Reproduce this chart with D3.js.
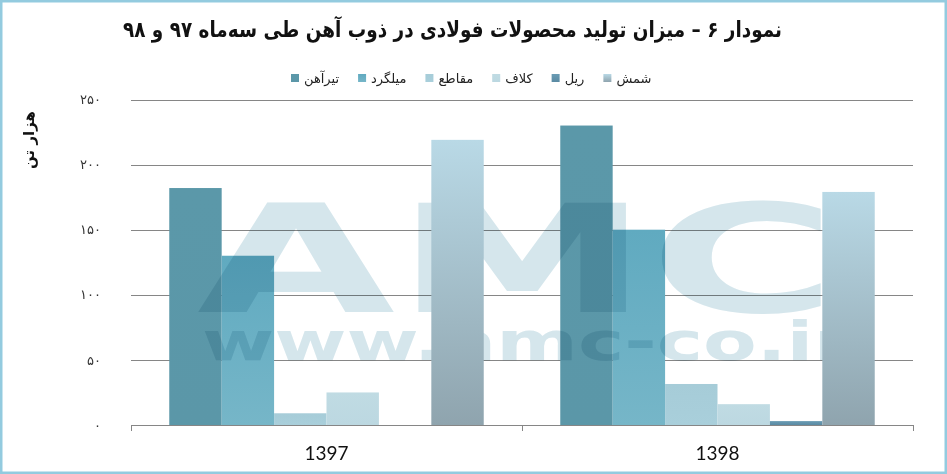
<!DOCTYPE html>
<html>
<head>
<meta charset="utf-8">
<script src="https://cdn.jsdelivr.net/npm/d3@7"></script>
<style>
body { margin: 0; background: #fff; }
svg { display: block; }
</style>
</head>
<body>
<svg id="chart" width="947" height="474"></svg>
<script>
// data (thousand tonnes)
var years = ["1397", "1398"];
var products = ["تیرآهن", "میلگرد", "مقاطع", "کلاف", "ریل", "شمش"];
var values1397 = [182, 130, 9, 25, 0, 219];
var values1398 = [230, 150, 31.5, 16, 3, 179];
var yTicks = [0, 50, 100, 150, 200, 250];
var titleText = "نمودار ۶ – میزان تولید محصولات  فولادی در ذوب آهن طی سه‌ماه ۹۷ و ۹۸";
var yTitle = "هزار تن";

// gradient stops per series: [top, bottom]
var colors = [["#5b98a9", "#5b97a8"], ["#60aac0", "#76b6c8"], ["#a6ccd8", "#a9cfdb"],
              ["#c0dbe3", "#bcd8e1"], ["#6a9cb4", "#5a8aa3"], ["#b9d9e6", "#8fa4ae"]];
// series that sit above the watermark
var overWatermark = ["شمش"];

var rows = [values1397, values1398];
var table = [];
years.forEach(function (yr, i) {
    products.forEach(function (p, j) {
        table.push({year: yr, product: p, idx: j, value: rows[i][j]});
    });
});

function toFa(n) {
    return String(n).replace(/\d/g, function (d) { return "۰۱۲۳۴۵۶۷۸۹"[d]; });
}

var svg = d3.select("#chart");
var plotL = 131, plotR = 913, plotT = 99.5, plotB = 425;

var x0 = d3.scaleBand().domain(years).range([plotL, plotR]);
var x1 = d3.scaleBand().domain(products).range([0, x0.bandwidth()]).paddingOuter(0.73);
var y = d3.scaleLinear().domain([0, 250]).range([plotB, plotT]);

var defs = svg.append("defs");
colors.forEach(function (c, j) {
    var g = defs.append("linearGradient").attr("id", "g" + j)
        .attr("x1", 0).attr("y1", 0).attr("x2", 0).attr("y2", 1);
    g.append("stop").attr("offset", "0%").attr("stop-color", c[0]);
    g.append("stop").attr("offset", "100%").attr("stop-color", c[1]);
});

// frame
svg.append("rect").attr("x", 1.25).attr("y", 1.25).attr("width", 944.5).attr("height", 471.5)
    .attr("fill", "#fff").attr("stroke", "#93cbdf").attr("stroke-width", 2.5);

// title
svg.append("text").text(titleText)
    .attr("x", 123).attr("y", 37)
    .attr("textLength", 659).attr("lengthAdjust", "spacingAndGlyphs")
    .style("font-family", "DejaVu Sans").style("font-weight", "bold").style("font-size", "22px")
    .attr("fill", "#111");

// gridlines
svg.append("g").selectAll("line").data(yTicks.filter(function (d) { return d > 0; }))
    .enter().append("line")
    .attr("x1", plotL).attr("x2", plotR)
    .attr("y1", function (d) { return Math.round(y(d)) + 0.5; })
    .attr("y2", function (d) { return Math.round(y(d)) + 0.5; })
    .attr("stroke", "#868686").attr("stroke-width", 1);

// y axis labels
var yAxis = svg.append("g")
    .attr("transform", "translate(" + plotL + ",0)")
    .call(d3.axisLeft(y).tickValues(yTicks).tickSize(0).tickPadding(30).tickFormat(toFa));
yAxis.select(".domain").remove();
yAxis.selectAll("text").style("font-family", "DejaVu Sans").style("font-size", "13px").attr("fill", "#333");

// y title
svg.append("text").text(yTitle)
    .attr("transform", "translate(34,140) rotate(-90)")
    .attr("text-anchor", "middle")
    .style("font-family", "DejaVu Sans").style("font-weight", "bold").style("font-size", "15px")
    .attr("fill", "#111");

function drawBars(g, data) {
    g.selectAll("rect").data(data).enter().append("rect")
        .attr("x", function (d) { return x0(d.year) + x1(d.product); })
        .attr("y", function (d) { return y(d.value); })
        .attr("width", x1.bandwidth())
        .attr("height", function (d) { return plotB - y(d.value); })
        .attr("fill", function (d) { return "url(#g" + d.idx + ")"; });
}

drawBars(svg.append("g"), table.filter(function (d) { return overWatermark.indexOf(d.product) < 0; }));

// watermark
var wm = svg.append("g").style("mix-blend-mode", "multiply").attr("fill", "#d5e6ec")
    .style("font-family", "DejaVu Sans").style("font-weight", "bold");
wm.append("text").text("AMC").attr("x", 197).attr("y", 312)
    .attr("textLength", 640).attr("lengthAdjust", "spacingAndGlyphs")
    .style("font-size", "150px");
wm.append("text").text("www.amc-co.ir").attr("x", 202).attr("y", 360)
    .attr("textLength", 650).attr("lengthAdjust", "spacingAndGlyphs")
    .style("font-size", "54px");

drawBars(svg.append("g"), table.filter(function (d) { return overWatermark.indexOf(d.product) >= 0; }));

// x axis
var xg = svg.append("g");
xg.append("line").attr("x1", plotL).attr("x2", plotR).attr("y1", plotB + 0.5).attr("y2", plotB + 0.5)
    .attr("stroke", "#868686");
xg.selectAll(".tk").data(years.map(function (d) { return x0(d); }).concat([plotR]))
    .enter().append("line").attr("class", "tk")
    .attr("x1", function (d) { return d + 0.5; }).attr("x2", function (d) { return d + 0.5; })
    .attr("y1", plotB).attr("y2", plotB + 6).attr("stroke", "#868686");
var xAxis = svg.append("g").attr("transform", "translate(0," + plotB + ")")
    .call(d3.axisBottom(x0).tickSize(0).tickPadding(22));
xAxis.select(".domain").remove();
xAxis.selectAll("text").style("font-family", "Lato").style("font-size", "19px").attr("fill", "#111");

// legend
var legend = svg.append("g").attr("transform", "translate(291,78)");
var cx = 0;
products.forEach(function (p, j) {
    var item = legend.append("g").attr("transform", "translate(" + cx + ",0)");
    item.append("rect").attr("x", 0).attr("y", -4).attr("width", 8).attr("height", 8)
        .attr("fill", "url(#g" + j + ")");
    var t = item.append("text").text(p).attr("x", 13).attr("y", 5)
        .style("font-family", "DejaVu Sans").style("font-size", "13px").attr("fill", "#222");
    cx += 13 + t.node().getComputedTextLength() + 19;
});
</script>
</body>
</html>
